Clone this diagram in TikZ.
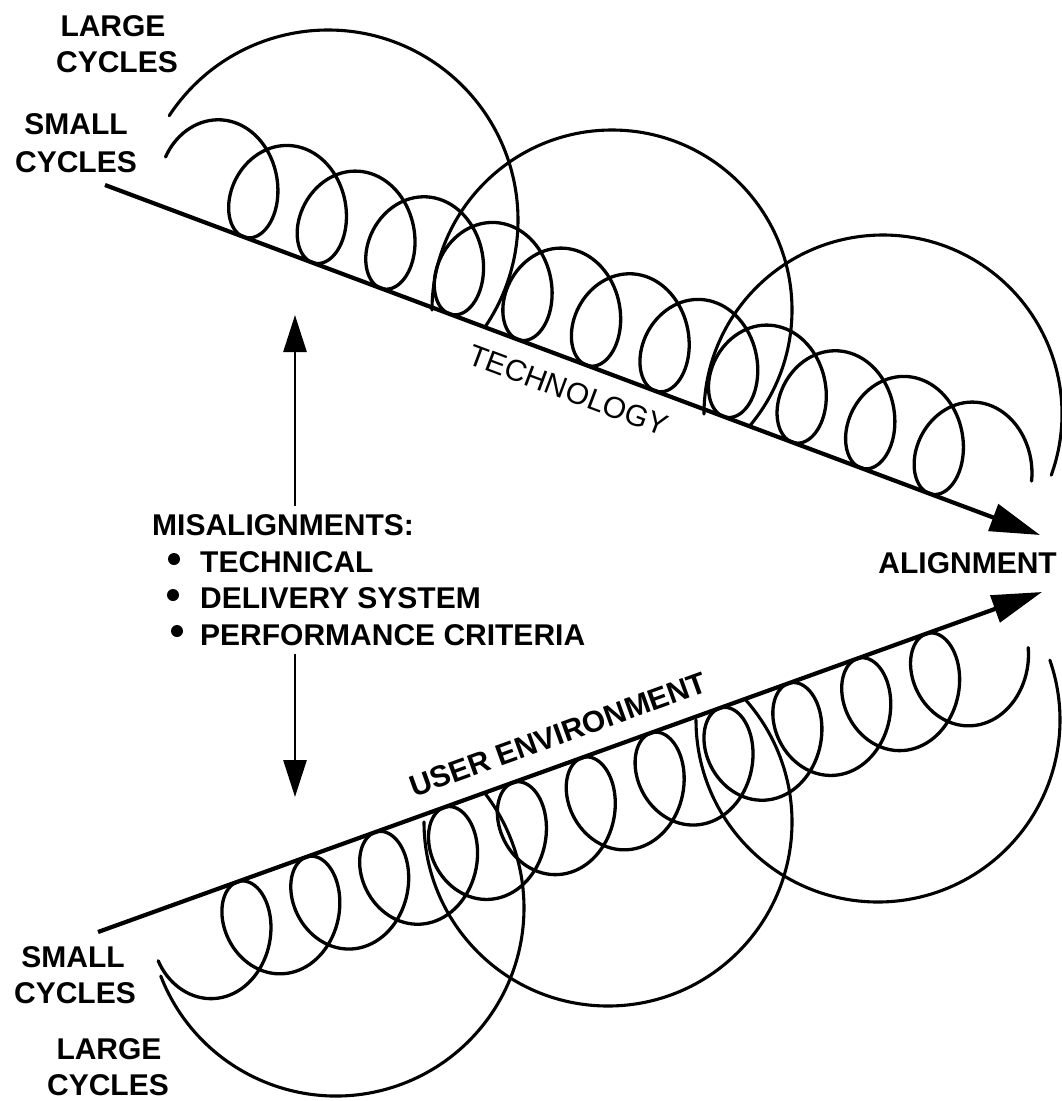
\documentclass[tikz,border=0pt]{standalone}
\usepackage{fontspec}
\setmainfont{Liberation Sans}
\usetikzlibrary{arrows.meta}
\begin{document}
\begin{tikzpicture}[x=1pt,y=-1pt,
  % helix seen from the side: a looped trochoid in the frame of its axis
  declare function={cu(\s)=148+11.65*\s-40.6*sin(\s r); cv(\s)=52*(1-cos(\s r));},
  axisline/.style={line width=4.2pt, -{Triangle[length=50pt,width=28pt]}},
  coil/.style={line width=3.3pt, line join=round, line cap=round},
  bigcycle/.style={line width=3.1pt, line cap=round},
  gaparrow/.style={line width=2.8pt, -{Triangle[length=37pt,width=23pt]}},
  dot/.style={circle, fill=black, inner sep=0pt, minimum size=12pt},
  lbl/.style={font=\fontsize{30}{37}\selectfont\bfseries, inner sep=0pt},
  axlbl/.style={font=\fontsize{30}{37}\selectfont, inner sep=0pt}]

\fill[white] (0,0) rectangle (1062,1101);
\useasboundingbox (0,0) rectangle (1062,1101);

% axes
\coordinate (techStart) at (105,185);
\coordinate (techEnd) at (1040,535);
\coordinate (userStart) at (98,932);
\coordinate (userEnd) at (1042,592);

\begin{scope}
\clip (0,0) rectangle (1062,1101);

% small cycles above the technology axis
\draw[coil] plot[domain=-4.8:67.632, samples=900, variable=\t]
  ({105+0.9365*cu(\t)+0.25695*cv(\t)}, {185+0.3506*cu(\t)-0.97156*cv(\t)});

% small cycles below the user environment axis
\draw[coil] plot[domain=-4.8:67.632, samples=900, variable=\t]
  ({98+0.9408*cu(\t)+0.24472*cv(\t)}, {932-0.3388*cu(\t)+0.97468*cv(\t)});

% large cycles above
\draw[bigcycle] (328,220) ++(-146.7:190) arc[start angle=-146.7, end angle=34.3, radius=190];
\draw[bigcycle] (612,310) ++(180:180) arc[start angle=180, end angle=400, radius=180];
\draw[bigcycle] (883,414) ++(180:179) arc[start angle=180, end angle=380, radius=179];

% large cycles below
\draw[bigcycle] (336,908) ++(158.8:188) arc[start angle=158.8, end angle=-37.5, radius=188];
\draw[bigcycle] (608,822) ++(180:184) arc[start angle=180, end angle=-41.5, radius=184];
\draw[bigcycle] (878,720) ++(180:182) arc[start angle=180, end angle=-19.2, radius=182];
\end{scope}

\draw[axisline] (techStart) -- (techEnd);
\draw[axisline] (userStart) -- (userEnd);

% axis labels
\node[axlbl, rotate=-20.52] (techlbl) at (568.4,390.5) {TECHNOLOGY};
\node[lbl, rotate=19.8] (userlbl) at (558.2,734.4) {USER ENVIRONMENT};
\node[lbl, anchor=base east] (align) at (1057,573) {ALIGNMENT};

% cycle labels
\node[lbl, anchor=base] (largeTopA) at (113,36) {LARGE};
\node[lbl, anchor=base] (largeTopB) at (117,72) {CYCLES};
\node[lbl, anchor=base] (smallTopA) at (76,134) {SMALL};
\node[lbl, anchor=base] (smallTopB) at (76,172) {CYCLES};
\node[lbl, anchor=base] (smallBotA) at (73,967) {SMALL};
\node[lbl, anchor=base] (smallBotB) at (75,1003) {CYCLES};
\node[lbl, anchor=base] (largeBotA) at (109,1059) {LARGE};
\node[lbl, anchor=base] (largeBotB) at (108,1095) {CYCLES};

% misalignments list
\node[lbl, anchor=base west] (mis) at (152,535) {MISALIGNMENTS:};
\node[dot] (bulletA) at (174,559) {};
\node[dot] (bulletB) at (173,595) {};
\node[dot] (bulletC) at (177,631) {};
\node[lbl, anchor=base west] (tech) at (200,572) {TECHNICAL};
\node[lbl, anchor=base west] (deliv) at (200,608) {DELIVERY SYSTEM};
\node[lbl, anchor=base west] (perf) at (200,645) {PERFORMANCE CRITERIA};

\coordinate (upTip) at (295,315);
\coordinate (downTip) at (295,797);
\draw[gaparrow] ([yshift=8pt]mis.north -| upTip) -- (upTip);
\draw[gaparrow] ([yshift=-8pt]perf.south -| downTip) -- (downTip);
\end{tikzpicture}
\end{document}
